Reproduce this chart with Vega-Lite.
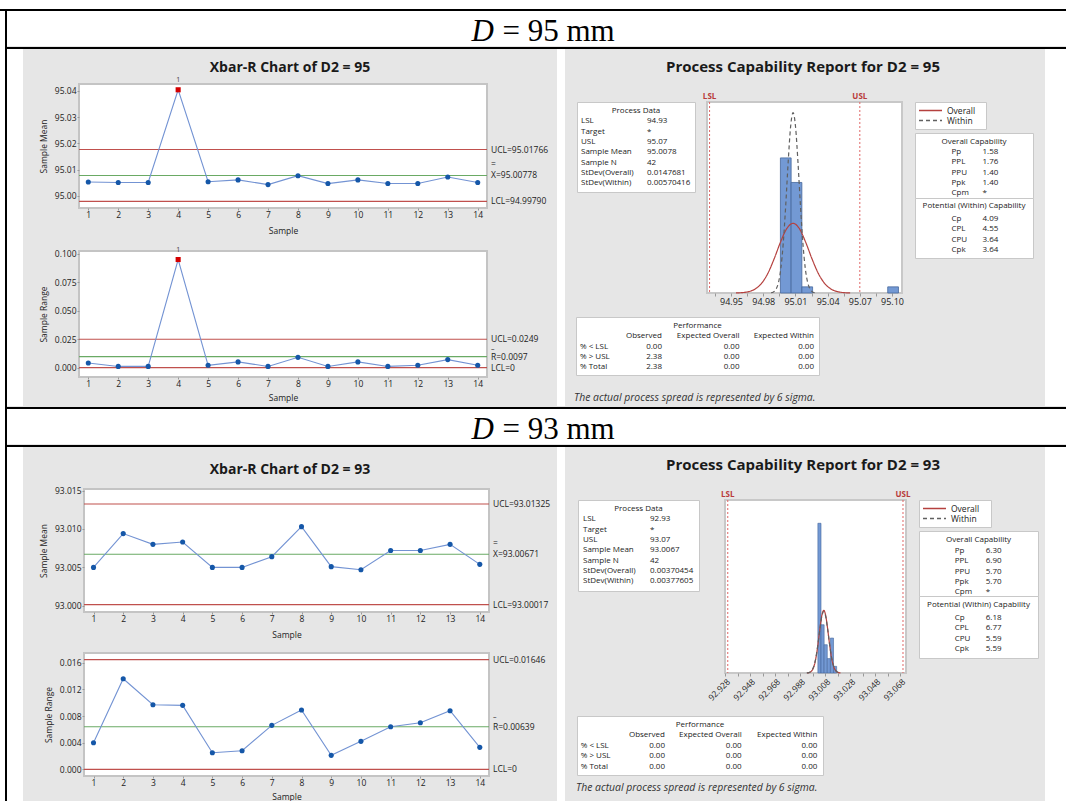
{
"$schema": "https://vega.github.io/schema/vega-lite/v6.json",
"background": "#e6e6e6",
"padding": 0,
"usermeta": {"embedOptions": {"actions": false}},
"config": {
  "view": {"stroke": null},
  "font": "Open Sans",
  "concat": {"spacing": 0},
  "axis": {"labelFont": "Open Sans", "labelFontSize": 8.5, "labelColor": "#222", "titleFont": "Open Sans", "titleFontSize": 8.5, "titleFontWeight": "normal", "titleColor": "#222", "tickColor": "#999", "domain": false, "grid": false, "labelOverlap": false, "labelFlush": false, "labelBound": false}
},
"spacing": 0,
"vconcat": [
 {"width": 1066, "height": 9, "view": {"fill": "white"}, "data": {"values": []}, "mark": "point"},
 {"width": 1066, "height": 2, "view": {"fill": "black"}, "data": {"values": []}, "mark": "point"},
 {"spacing": 0, "hconcat": [
  {"width": 5, "height": 790, "view": {"fill": "white"}, "data": {"values": []}, "mark": "point"},
  {"width": 2, "height": 790, "view": {"fill": "black"}, "data": {"values": []}, "mark": "point"},
  {"spacing": 0, "vconcat": [
   {"width": 1059, "height": 35, "view": {"fill": "white"},
    "data": {"values": [{"d": "D", "rest": "= 95 mm"}]},
    "layer": [
     {"mark": {"type": "text", "font": "Liberation Serif", "fontSize": 31, "fontStyle": "italic", "align": "left", "baseline": "alphabetic", "dx": -65, "dy": 12, "color": "black"}, "encoding": {"text": {"field": "d"}}},
     {"mark": {"type": "text", "font": "Liberation Serif", "fontSize": 31, "align": "left", "baseline": "alphabetic", "dx": -34, "dy": 12, "color": "black"}, "encoding": {"text": {"field": "rest"}}}
    ]},
   {"width": 1059, "height": 2, "view": {"fill": "black"}, "data": {"values": []}, "mark": "point"},
   {"spacing": 0, "hconcat": [
    {"width": 16, "height": 357, "view": {"fill": "white"}, "data": {"values": []}, "mark": "point"},
    {"bounds": "flush", "spacing": 0, "columns": 3, "align": "each", "concat": [
     {"width": 56, "height": 35, "data": {"values": []}, "mark": "point"},
     {"width": 408, "height": 35, "data": {"values": [{"t": "Xbar-R Chart of D2 = 95"}]}, "mark": {"type": "text", "fontSize": 14, "fontWeight": "bold", "dx": 7, "dy": 1.5, "color": "#1a1a1a"}, "encoding": {"text": {"field": "t"}}},
     {"width": 70, "height": 35, "data": {"values": []}, "mark": "point"},
     {"width": 56, "height": 124, "data": {"values": []}, "mark": "point"},
     {"width": 408, "height": 124, "view": {"fill": "white", "stroke": "#c4c4c4", "strokeWidth": 2},
      "encoding": {"y": {"field": "y", "type": "quantitative", "scale": {"domain": [94.9954, 95.0426], "nice": false, "zero": false}, "axis": {"values": [95.0, 95.01, 95.02, 95.03, 95.04], "format": ".2f", "title": "Sample Mean", "tickSize": 2, "labelPadding": 1, "titlePadding": 6, "labelOverlap": false, "labelFlush": false}}},
      "layer": [
       {"data": {"values": [{"k": "UCL", "y": 95.01766}, {"k": "CL", "y": 95.00778}, {"k": "LCL", "y": 94.9979}]},
        "mark": {"type": "rule", "strokeWidth": 1.2},
        "encoding": {"color": {"condition": {"test": "datum.k == 'CL'", "value": "#6aaa64"}, "value": "#c0504d"}}},
       {"data": {"values": [{"y": 95.01766, "lab": "UCL=95.01766"}, {"y": 95.00778, "lab": "X=95.00778"}, {"y": 94.9979, "lab": "LCL=94.99790"}]},
        "mark": {"type": "text", "align": "left", "dx": 4, "fontSize": 8.5, "color": "#222"},
        "encoding": {"x": {"datum": 14.31, "type": "quantitative", "scale": {"domain": [0.69, 14.31], "nice": false, "zero": false}, "axis": {"values": [1,2,3,4,5,6,7,8,9,10,11,12,13,14], "format": "d", "title": "Sample", "tickSize": 2, "labelPadding": 0, "titlePadding": 8, "labelOverlap": false, "labelFlush": false}}, "text": {"field": "lab"}}},
       {"data": {"values": [{"y": 95.00778, "lab": "="}]},
        "mark": {"type": "text", "align": "left", "dx": 4, "dy": -11, "fontSize": 8.5, "color": "#222"},
        "encoding": {"x": {"datum": 14.31, "type": "quantitative", "scale": {"domain": [0.69, 14.31], "nice": false, "zero": false}, "axis": {"values": [1,2,3,4,5,6,7,8,9,10,11,12,13,14], "format": "d", "title": "Sample", "tickSize": 2, "labelPadding": 0, "titlePadding": 8, "labelOverlap": false, "labelFlush": false}}, "text": {"field": "lab"}}},
       {"data": {"name": "xb1", "values": [{"x": 1, "y": 95.0053, "o": "in"}, {"x": 2, "y": 95.0051, "o": "in"}, {"x": 3, "y": 95.0051, "o": "in"}, {"x": 4, "y": 95.0404, "o": "out"}, {"x": 5, "y": 95.0054, "o": "in"}, {"x": 6, "y": 95.0061, "o": "in"}, {"x": 7, "y": 95.0043, "o": "in"}, {"x": 8, "y": 95.0077, "o": "in"}, {"x": 9, "y": 95.0047, "o": "in"}, {"x": 10, "y": 95.0061, "o": "in"}, {"x": 11, "y": 95.0047, "o": "in"}, {"x": 12, "y": 95.0047, "o": "in"}, {"x": 13, "y": 95.0072, "o": "in"}, {"x": 14, "y": 95.0051, "o": "in"}]},
        "encoding": {"x": {"field": "x", "type": "quantitative", "scale": {"domain": [0.69, 14.31], "nice": false, "zero": false}, "axis": {"values": [1,2,3,4,5,6,7,8,9,10,11,12,13,14], "format": "d", "title": "Sample", "tickSize": 2, "labelPadding": 0, "titlePadding": 8, "labelOverlap": false, "labelFlush": false}}},
        "layer": [
         {"mark": {"type": "line", "color": "#7393d3", "strokeWidth": 1.1}},
         {"mark": {"type": "point", "filled": true, "opacity": 1, "size": 26}, "encoding": {"color": {"condition": {"test": "datum.o == 'out'", "value": "#d40000"}, "value": "#1557a8"}, "shape": {"condition": {"test": "datum.o == 'out'", "value": "square"}, "value": "circle"}}},
         {"transform": [{"filter": "datum.o == 'out'"}], "mark": {"type": "text", "dy": -10, "fontSize": 7, "color": "#444"}, "encoding": {"text": {"value": "1"}}}
        ]}
      ]},
     {"width": 70, "height": 124, "data": {"values": []}, "mark": "point"},
     {"width": 56, "height": 43, "data": {"values": []}, "mark": "point"},
     {"width": 408, "height": 43, "data": {"values": []}, "mark": "point"},
     {"width": 70, "height": 43, "data": {"values": []}, "mark": "point"},
     {"width": 56, "height": 126, "data": {"values": []}, "mark": "point"},
     {"width": 408, "height": 126, "view": {"fill": "white", "stroke": "#c4c4c4", "strokeWidth": 2},
      "encoding": {"y": {"field": "y", "type": "quantitative", "scale": {"domain": [-0.0083, 0.1025], "nice": false, "zero": false}, "axis": {"values": [0, 0.025, 0.05, 0.075, 0.1], "format": ".3f", "title": "Sample Range", "tickSize": 2, "labelPadding": 1, "titlePadding": 6, "labelOverlap": false, "labelFlush": false}}},
      "layer": [
       {"data": {"values": [{"k": "UCL", "y": 0.0249}, {"k": "CL", "y": 0.0097}, {"k": "LCL", "y": 0}]},
        "mark": {"type": "rule", "strokeWidth": 1.2},
        "encoding": {"color": {"condition": {"test": "datum.k == 'CL'", "value": "#6aaa64"}, "value": "#c0504d"}}},
       {"data": {"values": [{"y": 0.0249, "lab": "UCL=0.0249"}, {"y": 0.0097, "lab": "R=0.0097"}, {"y": 0, "lab": "LCL=0"}]},
        "mark": {"type": "text", "align": "left", "dx": 4, "fontSize": 8.5, "color": "#222"},
        "encoding": {"x": {"datum": 14.31, "type": "quantitative", "scale": {"domain": [0.69, 14.31], "nice": false, "zero": false}, "axis": {"values": [1,2,3,4,5,6,7,8,9,10,11,12,13,14], "format": "d", "title": "Sample", "tickSize": 2, "labelPadding": 0, "titlePadding": 6, "labelOverlap": false, "labelFlush": false}}, "text": {"field": "lab"}}},
       {"data": {"values": [{"y": 0.0097, "lab": "–"}]},
        "mark": {"type": "text", "align": "left", "dx": 4, "dy": -8, "fontSize": 7, "color": "#222"},
        "encoding": {"x": {"datum": 14.31, "type": "quantitative", "scale": {"domain": [0.69, 14.31], "nice": false, "zero": false}, "axis": {"values": [1,2,3,4,5,6,7,8,9,10,11,12,13,14], "format": "d", "title": "Sample", "tickSize": 2, "labelPadding": 0, "titlePadding": 6, "labelOverlap": false, "labelFlush": false}}, "text": {"field": "lab"}}},
       {"data": {"name": "r1", "values": [{"x": 1, "y": 0.004, "o": "in"}, {"x": 2, "y": 0.001, "o": "in"}, {"x": 3, "y": 0.001, "o": "in"}, {"x": 4, "y": 0.095, "o": "out"}, {"x": 5, "y": 0.002, "o": "in"}, {"x": 6, "y": 0.005, "o": "in"}, {"x": 7, "y": 0.001, "o": "in"}, {"x": 8, "y": 0.009, "o": "in"}, {"x": 9, "y": 0.001, "o": "in"}, {"x": 10, "y": 0.005, "o": "in"}, {"x": 11, "y": 0.001, "o": "in"}, {"x": 12, "y": 0.002, "o": "in"}, {"x": 13, "y": 0.007, "o": "in"}, {"x": 14, "y": 0.002, "o": "in"}]},
        "encoding": {"x": {"field": "x", "type": "quantitative", "scale": {"domain": [0.69, 14.31], "nice": false, "zero": false}, "axis": {"values": [1,2,3,4,5,6,7,8,9,10,11,12,13,14], "format": "d", "title": "Sample", "tickSize": 2, "labelPadding": 0, "titlePadding": 6, "labelOverlap": false, "labelFlush": false}}},
        "layer": [
         {"mark": {"type": "line", "color": "#7393d3", "strokeWidth": 1.1}},
         {"mark": {"type": "point", "filled": true, "opacity": 1, "size": 26}, "encoding": {"color": {"condition": {"test": "datum.o == 'out'", "value": "#d40000"}, "value": "#1557a8"}, "shape": {"condition": {"test": "datum.o == 'out'", "value": "square"}, "value": "circle"}}},
         {"transform": [{"filter": "datum.o == 'out'"}], "mark": {"type": "text", "dy": -10, "fontSize": 7, "color": "#444"}, "encoding": {"text": {"value": "1"}}}
        ]}
      ]},
     {"width": 70, "height": 126, "data": {"values": []}, "mark": "point"},
     {"width": 56, "height": 29, "data": {"values": []}, "mark": "point"},
     {"width": 408, "height": 29, "data": {"values": []}, "mark": "point"},
     {"width": 70, "height": 29, "data": {"values": []}, "mark": "point"}
    ]},
    {"width": 8, "height": 357, "view": {"fill": "white"}, "data": {"values": []}, "mark": "point"},
    {"spacing": 0, "vconcat": [
     {"width": 476, "height": 43, "data": {"values": [{"t": "Process Capability Report for D2 = 95"}]}, "mark": {"type": "text", "fontSize": 15, "fontWeight": "bold", "dy": -3.5, "color": "#1a1a1a"}, "encoding": {"text": {"field": "t"}}},
     {"spacing": 0, "hconcat": [
      {"width": 10.5, "height": 224, "data": {"values": []}, "mark": "point"},
      {"bounds": "flush", "spacing": 0, "vconcat": [
       {"width": 118, "height": 10, "data": {"values": []}, "mark": "point"},
       {"width": 118, "height": 90, "view": {"fill": "white", "stroke": "#c8c8c8", "strokeWidth": 1},
        "data": {"values": [{"i": 1, "a": "LSL", "b": "94.93"}, {"i": 2, "a": "Target", "b": "*"}, {"i": 3, "a": "USL", "b": "95.07"}, {"i": 4, "a": "Sample Mean", "b": "95.0078"}, {"i": 5, "a": "Sample N", "b": "42"}, {"i": 6, "a": "StDev(Overall)", "b": "0.0147681"}, {"i": 7, "a": "StDev(Within)", "b": "0.00570416"}]},
        "layer": [
         {"data": {"values": [{"h": "Process Data"}]}, "mark": {"type": "text", "fontSize": 8, "dy": -36, "color": "#222"}, "encoding": {"text": {"field": "h"}}},
         {"mark": {"type": "text", "align": "left", "dx": -55, "fontSize": 8, "color": "#222"}, "encoding": {"y": {"field": "i", "type": "quantitative", "scale": {"domain": [-0.874, 7.864], "reverse": true, "nice": false, "zero": false}, "axis": null}, "text": {"field": "a"}}},
         {"mark": {"type": "text", "align": "left", "dx": 11, "fontSize": 8, "color": "#222"}, "encoding": {"y": {"field": "i", "type": "quantitative", "axis": null}, "text": {"field": "b"}}}
        ]},
       {"width": 118, "height": 124, "data": {"values": []}, "mark": "point"}
      ]},
      {"bounds": "flush", "spacing": 0, "columns": 3, "align": "each", "concat": [
       {"width": 10.5, "height": 10, "data": {"values": []}, "mark": "point"},
       {"width": 195, "height": 10, "data": {"values": []}, "mark": "point"},
       {"width": 11.5, "height": 10, "data": {"values": []}, "mark": "point"},
       {"width": 10.5, "height": 191, "data": {"values": []}, "mark": "point"},
       {"width": 195, "height": 191, "view": {"fill": "white", "stroke": "#c8c8c8", "strokeWidth": 2},
        "encoding": {"x": {"field": "lo", "type": "quantitative", "scale": {"domain": [94.9276, 95.1093], "nice": false, "zero": false}, "axis": {"values": [94.935, 94.95, 94.965, 94.98, 94.995, 95.01, 95.025, 95.04, 95.055, 95.07, 95.085, 95.1], "labelExpr": "abs(datum.value*100 - round(datum.value*100)) < 0.01 ? format(datum.value, '.2f') : ''", "title": null, "tickSize": 3, "labelPadding": 1, "labelFontSize": 9, "labelFlush": false, "labelOverlap": false}}},
        "layer": [
         {"data": {"values": [{"lo": 94.996, "hi": 95.006, "n": 22}, {"lo": 95.006, "hi": 95.016, "n": 18}, {"lo": 95.016, "hi": 95.026, "n": 1}, {"lo": 95.096, "hi": 95.106, "n": 1}]},
          "mark": {"type": "rect", "fill": "#7399d4", "stroke": "#45679c", "strokeWidth": 0.8},
          "encoding": {"x2": {"field": "hi"}, "y": {"field": "n", "type": "quantitative", "scale": {"domain": [0, 31.1], "nice": false, "zero": false}, "axis": null}, "y2": {"datum": 0}}},
         {"data": {"values": [{"k": "LSL", "lo": 94.93}, {"k": "USL", "lo": 95.07}]},
          "mark": {"type": "rule", "color": "#e06666", "strokeDash": [2, 2], "strokeWidth": 1}},
         {"data": {"values": [{"k": "LSL", "lo": 94.93}, {"k": "USL", "lo": 95.07}]},
          "mark": {"type": "text", "baseline": "bottom", "dy": -1, "fontSize": 8, "fontWeight": "bold", "color": "#b83b3b"},
          "encoding": {"y": {"datum": 31.1, "type": "quantitative", "axis": null}, "text": {"field": "k"}}},
         {"data": {"values": [
           {"c": "Overall", "lo": 94.95463, "n": 0.017}, {"c": "Overall", "lo": 94.96054, "n": 0.068}, {"c": "Overall", "lo": 94.96645, "n": 0.225}, {"c": "Overall", "lo": 94.97236, "n": 0.637}, {"c": "Overall", "lo": 94.97826, "n": 1.536}, {"c": "Overall", "lo": 94.98417, "n": 3.155}, {"c": "Overall", "lo": 94.99008, "n": 5.525}, {"c": "Overall", "lo": 94.99599, "n": 8.241}, {"c": "Overall", "lo": 95.00189, "n": 10.477}, {"c": "Overall", "lo": 95.0078, "n": 11.35}, {"c": "Overall", "lo": 95.01371, "n": 10.477}, {"c": "Overall", "lo": 95.01961, "n": 8.241}, {"c": "Overall", "lo": 95.02552, "n": 5.525}, {"c": "Overall", "lo": 95.03143, "n": 3.155}, {"c": "Overall", "lo": 95.03734, "n": 1.536}, {"c": "Overall", "lo": 95.04324, "n": 0.637}, {"c": "Overall", "lo": 95.04915, "n": 0.225}, {"c": "Overall", "lo": 95.05506, "n": 0.068}, {"c": "Overall", "lo": 95.06097, "n": 0.017},
           {"c": "Within", "lo": 94.98727, "n": 0.045}, {"c": "Within", "lo": 94.98955, "n": 0.176}, {"c": "Within", "lo": 94.99183, "n": 0.583}, {"c": "Within", "lo": 94.99411, "n": 1.649}, {"c": "Within", "lo": 94.99639, "n": 3.975}, {"c": "Within", "lo": 94.99867, "n": 8.165}, {"c": "Within", "lo": 95.00096, "n": 14.297}, {"c": "Within", "lo": 95.00324, "n": 21.326}, {"c": "Within", "lo": 95.00552, "n": 27.111}, {"c": "Within", "lo": 95.0078, "n": 29.37}, {"c": "Within", "lo": 95.01008, "n": 27.111}, {"c": "Within", "lo": 95.01236, "n": 21.326}, {"c": "Within", "lo": 95.01465, "n": 14.297}, {"c": "Within", "lo": 95.01693, "n": 8.165}, {"c": "Within", "lo": 95.01921, "n": 3.975}, {"c": "Within", "lo": 95.02149, "n": 1.649}, {"c": "Within", "lo": 95.02377, "n": 0.583}, {"c": "Within", "lo": 95.02605, "n": 0.176}, {"c": "Within", "lo": 95.02834, "n": 0.045}]},
          "mark": {"type": "line", "interpolate": "monotone", "strokeWidth": 1.2},
          "encoding": {"y": {"field": "n", "type": "quantitative", "axis": null}, "detail": {"field": "c"},
           "color": {"condition": {"test": "datum.c == 'Within'", "value": "#606060"}, "value": "#b5413f"},
           "strokeDash": {"condition": {"test": "datum.c == 'Within'", "value": [4, 3]}, "value": [1, 0]}}}
        ]},
       {"width": 11.5, "height": 191, "data": {"values": []}, "mark": "point"},
       {"width": 10.5, "height": 23, "data": {"values": []}, "mark": "point"},
       {"width": 195, "height": 23, "data": {"values": []}, "mark": "point"},
       {"width": 11.5, "height": 23, "data": {"values": []}, "mark": "point"}
      ]},
      {"bounds": "flush", "spacing": 0, "vconcat": [
       {"width": 118, "height": 10, "data": {"values": []}, "mark": "point"},
       {"width": 71, "height": 27, "view": {"fill": "white", "stroke": "#c8c8c8", "strokeWidth": 1},
        "layer": [
         {"data": {"values": [{"c": "Overall", "t": 0}, {"c": "Overall", "t": 1}, {"c": "Within", "t": 0}, {"c": "Within", "t": 1}]},
          "mark": {"type": "line", "strokeWidth": 1.3},
          "encoding": {"x": {"field": "t", "type": "quantitative", "scale": {"domain": [-0.174, 2.913], "nice": false, "zero": false}, "axis": null}, "y": {"field": "c", "type": "nominal", "scale": {"type": "point", "padding": 0.85}, "axis": null}, "detail": {"field": "c"},
           "color": {"condition": {"test": "datum.c == 'Within'", "value": "#606060"}, "value": "#b5413f"},
           "strokeDash": {"condition": {"test": "datum.c == 'Within'", "value": [4, 3]}, "value": [1, 0]}}},
         {"data": {"values": [{"c": "Overall"}, {"c": "Within"}]},
          "mark": {"type": "text", "align": "left", "dx": 5, "fontSize": 8.5, "color": "#222"},
          "encoding": {"x": {"datum": 1, "type": "quantitative", "axis": null}, "y": {"field": "c", "type": "nominal", "axis": null}, "text": {"field": "c"}}}
        ]},
       {"width": 118, "height": 4, "data": {"values": []}, "mark": "point"},
       {"width": 118, "height": 65, "view": {"fill": "white", "stroke": "#c8c8c8", "strokeWidth": 1},
        "data": {"values": [{"i": 1, "a": "Pp", "b": "1.58"}, {"i": 2, "a": "PPL", "b": "1.76"}, {"i": 3, "a": "PPU", "b": "1.40"}, {"i": 4, "a": "Ppk", "b": "1.40"}, {"i": 5, "a": "Cpm", "b": "*"}]},
        "layer": [
         {"data": {"values": [{"h": "Overall Capability"}]}, "mark": {"type": "text", "fontSize": 8, "dy": -23.5, "color": "#222"}, "encoding": {"text": {"field": "h"}}},
         {"mark": {"type": "text", "align": "left", "dx": -22.5, "fontSize": 8, "color": "#222"}, "encoding": {"y": {"field": "i", "type": "quantitative", "scale": {"domain": [-0.854, 5.488], "reverse": true, "nice": false, "zero": false}, "axis": null}, "text": {"field": "a"}}},
         {"mark": {"type": "text", "align": "left", "dx": 8.5, "fontSize": 8, "color": "#222"}, "encoding": {"y": {"field": "i", "type": "quantitative", "axis": null}, "text": {"field": "b"}}}
        ]},
       {"width": 118, "height": 60, "view": {"fill": "white", "stroke": "#c8c8c8", "strokeWidth": 1},
        "data": {"values": [{"i": 1, "a": "Cp", "b": "4.09"}, {"i": 2, "a": "CPL", "b": "4.55"}, {"i": 3, "a": "CPU", "b": "3.64"}, {"i": 4, "a": "Cpk", "b": "3.64"}]},
        "layer": [
         {"data": {"values": [{"h": "Potential (Within) Capability"}]}, "mark": {"type": "text", "fontSize": 8, "dy": -22, "color": "#222"}, "encoding": {"text": {"field": "h"}}},
         {"mark": {"type": "text", "align": "left", "dx": -22.5, "fontSize": 8, "color": "#222"}, "encoding": {"y": {"field": "i", "type": "quantitative", "scale": {"domain": [-1.033, 4.775], "reverse": true, "nice": false, "zero": false}, "axis": null}, "text": {"field": "a"}}},
         {"mark": {"type": "text", "align": "left", "dx": 8.5, "fontSize": 8, "color": "#222"}, "encoding": {"y": {"field": "i", "type": "quantitative", "axis": null}, "text": {"field": "b"}}}
        ]},
       {"width": 118, "height": 58, "data": {"values": []}, "mark": "point"}
      ]},
      {"width": 10.5, "height": 224, "data": {"values": []}, "mark": "point"}
     ]},
     {"bounds": "flush", "spacing": 0, "hconcat": [
      {"width": 11, "height": 58, "data": {"values": []}, "mark": "point"},
      {"width": 243, "height": 58, "view": {"fill": "white", "stroke": "#c8c8c8", "strokeWidth": 1},
       "data": {"values": [{"i": 1, "a": "", "o": "Observed", "e1": "Expected Overall", "e2": "Expected Within"}, {"i": 2, "a": "% < LSL", "o": "0.00", "e1": "0.00", "e2": "0.00"}, {"i": 3, "a": "% > USL", "o": "2.38", "e1": "0.00", "e2": "0.00"}, {"i": 4, "a": "% Total", "o": "2.38", "e1": "0.00", "e2": "0.00"}]},
       "layer": [
        {"data": {"values": [{"h": "Performance", "i": 0}]}, "mark": {"type": "text", "fontSize": 8, "color": "#222"}, "encoding": {"y": {"field": "i", "type": "quantitative", "scale": {"domain": [-0.874, 4.757], "reverse": true, "nice": false, "zero": false}, "axis": null}, "text": {"field": "h"}}},
        {"mark": {"type": "text", "align": "left", "dx": -117.5, "fontSize": 8, "color": "#222"}, "encoding": {"y": {"field": "i", "type": "quantitative", "axis": null}, "text": {"field": "a"}}},
        {"mark": {"type": "text", "align": "right", "dx": -35.5, "fontSize": 8, "color": "#222"}, "encoding": {"y": {"field": "i", "type": "quantitative", "axis": null}, "text": {"field": "o"}}},
        {"mark": {"type": "text", "align": "right", "dx": 42, "fontSize": 8, "color": "#222"}, "encoding": {"y": {"field": "i", "type": "quantitative", "axis": null}, "text": {"field": "e1"}}},
        {"mark": {"type": "text", "align": "right", "dx": 116.5, "fontSize": 8, "color": "#222"}, "encoding": {"y": {"field": "i", "type": "quantitative", "axis": null}, "text": {"field": "e2"}}}
       ]},
      {"width": 222, "height": 58, "data": {"values": []}, "mark": "point"}
     ]},
     {"width": 476, "height": 13, "data": {"values": []}, "mark": "point"},
     {"width": 476, "height": 18, "data": {"values": [{"t": "The actual process spread is represented by 6 sigma."}]}, "mark": {"type": "text", "align": "left", "dx": -229, "fontSize": 10.4, "fontStyle": "italic", "color": "#333"}, "encoding": {"text": {"field": "t"}}}
    ]},
    {"width": 25, "height": 357, "view": {"fill": "white"}, "data": {"values": []}, "mark": "point"}
   ]},
   {"width": 1059, "height": 2, "view": {"fill": "black"}, "data": {"values": []}, "mark": "point"},
   {"width": 1059, "height": 35, "view": {"fill": "white"},
    "data": {"values": [{"d": "D", "rest": "= 93 mm"}]},
    "layer": [
     {"mark": {"type": "text", "font": "Liberation Serif", "fontSize": 31, "fontStyle": "italic", "align": "left", "baseline": "alphabetic", "dx": -65, "dy": 12, "color": "black"}, "encoding": {"text": {"field": "d"}}},
     {"mark": {"type": "text", "font": "Liberation Serif", "fontSize": 31, "align": "left", "baseline": "alphabetic", "dx": -34, "dy": 12, "color": "black"}, "encoding": {"text": {"field": "rest"}}}
    ]},
   {"width": 1059, "height": 2, "view": {"fill": "black"}, "data": {"values": []}, "mark": "point"},
   {"spacing": 0, "hconcat": [
    {"width": 16, "height": 357, "view": {"fill": "white"}, "data": {"values": []}, "mark": "point"},
    {"bounds": "flush", "spacing": 0, "columns": 3, "align": "each", "concat": [
     {"width": 61, "height": 42, "data": {"values": []}, "mark": "point"},
     {"width": 405, "height": 42, "data": {"values": [{"t": "Xbar-R Chart of D2 = 93"}]}, "mark": {"type": "text", "fontSize": 14, "fontWeight": "bold", "dx": 3.5, "dy": 2, "color": "#1a1a1a"}, "encoding": {"text": {"field": "t"}}},
     {"width": 68, "height": 42, "data": {"values": []}, "mark": "point"},
     {"width": 61, "height": 123, "data": {"values": []}, "mark": "point"},
     {"width": 405, "height": 123, "view": {"fill": "white", "stroke": "#c4c4c4", "strokeWidth": 2},
      "encoding": {"y": {"field": "y", "type": "quantitative", "scale": {"domain": [92.9992, 93.0152], "nice": false, "zero": false}, "axis": {"values": [93.0, 93.005, 93.01, 93.015], "format": ".3f", "title": "Sample Mean", "tickSize": 2, "labelPadding": 1, "titlePadding": 6, "labelOverlap": false, "labelFlush": false}}},
      "layer": [
       {"data": {"values": [{"k": "UCL", "y": 93.01325}, {"k": "CL", "y": 93.00671}, {"k": "LCL", "y": 93.00017}]},
        "mark": {"type": "rule", "strokeWidth": 1.2},
        "encoding": {"color": {"condition": {"test": "datum.k == 'CL'", "value": "#6aaa64"}, "value": "#c0504d"}}},
       {"data": {"values": [{"y": 93.01325, "lab": "UCL=93.01325"}, {"y": 93.00671, "lab": "X=93.00671"}, {"y": 93.00017, "lab": "LCL=93.00017"}]},
        "mark": {"type": "text", "align": "left", "dx": 4, "fontSize": 8.5, "color": "#222"},
        "encoding": {"x": {"datum": 14.31, "type": "quantitative", "scale": {"domain": [0.68, 14.31], "nice": false, "zero": false}, "axis": {"values": [1,2,3,4,5,6,7,8,9,10,11,12,13,14], "format": "d", "title": "Sample", "tickSize": 2, "labelPadding": 0, "titlePadding": 8, "labelOverlap": false, "labelFlush": false}}, "text": {"field": "lab"}}},
       {"data": {"values": [{"y": 93.00671, "lab": "="}]},
        "mark": {"type": "text", "align": "left", "dx": 4, "dy": -11, "fontSize": 8.5, "color": "#222"},
        "encoding": {"x": {"datum": 14.31, "type": "quantitative", "scale": {"domain": [0.68, 14.31], "nice": false, "zero": false}, "axis": {"values": [1,2,3,4,5,6,7,8,9,10,11,12,13,14], "format": "d", "title": "Sample", "tickSize": 2, "labelPadding": 0, "titlePadding": 8, "labelOverlap": false, "labelFlush": false}}, "text": {"field": "lab"}}},
       {"data": {"values": [{"x": 1, "y": 93.005}, {"x": 2, "y": 93.0094}, {"x": 3, "y": 93.008}, {"x": 4, "y": 93.0083}, {"x": 5, "y": 93.005}, {"x": 6, "y": 93.005}, {"x": 7, "y": 93.0064}, {"x": 8, "y": 93.0103}, {"x": 9, "y": 93.0051}, {"x": 10, "y": 93.0047}, {"x": 11, "y": 93.0072}, {"x": 12, "y": 93.0072}, {"x": 13, "y": 93.008}, {"x": 14, "y": 93.0054}]},
        "encoding": {"x": {"field": "x", "type": "quantitative", "scale": {"domain": [0.68, 14.31], "nice": false, "zero": false}, "axis": {"values": [1,2,3,4,5,6,7,8,9,10,11,12,13,14], "format": "d", "title": "Sample", "tickSize": 2, "labelPadding": 0, "titlePadding": 8, "labelOverlap": false, "labelFlush": false}}},
        "layer": [
         {"mark": {"type": "line", "color": "#7393d3", "strokeWidth": 1.1}},
         {"mark": {"type": "point", "filled": true, "opacity": 1, "size": 26, "color": "#1557a8"}}
        ]}
      ]},
     {"width": 68, "height": 123, "data": {"values": []}, "mark": "point"},
     {"width": 61, "height": 41, "data": {"values": []}, "mark": "point"},
     {"width": 405, "height": 41, "data": {"values": []}, "mark": "point"},
     {"width": 68, "height": 41, "data": {"values": []}, "mark": "point"},
     {"width": 61, "height": 123, "data": {"values": []}, "mark": "point"},
     {"width": 405, "height": 123, "view": {"fill": "white", "stroke": "#c4c4c4", "strokeWidth": 2},
      "encoding": {"y": {"field": "y", "type": "quantitative", "scale": {"domain": [-0.001, 0.01746], "nice": false, "zero": false}, "axis": {"values": [0, 0.004, 0.008, 0.012, 0.016], "format": ".3f", "title": "Sample Range", "tickSize": 2, "labelPadding": 1, "titlePadding": 6, "labelOverlap": false, "labelFlush": false}}},
      "layer": [
       {"data": {"values": [{"k": "UCL", "y": 0.01646}, {"k": "CL", "y": 0.00639}, {"k": "LCL", "y": 0}]},
        "mark": {"type": "rule", "strokeWidth": 1.2},
        "encoding": {"color": {"condition": {"test": "datum.k == 'CL'", "value": "#6aaa64"}, "value": "#c0504d"}}},
       {"data": {"values": [{"y": 0.01646, "lab": "UCL=0.01646"}, {"y": 0.00639, "lab": "R=0.00639"}, {"y": 0, "lab": "LCL=0"}]},
        "mark": {"type": "text", "align": "left", "dx": 4, "fontSize": 8.5, "color": "#222"},
        "encoding": {"x": {"datum": 14.31, "type": "quantitative", "scale": {"domain": [0.68, 14.31], "nice": false, "zero": false}, "axis": {"values": [1,2,3,4,5,6,7,8,9,10,11,12,13,14], "format": "d", "title": "Sample", "tickSize": 2, "labelPadding": 0, "titlePadding": 6, "labelOverlap": false, "labelFlush": false}}, "text": {"field": "lab"}}},
       {"data": {"values": [{"y": 0.00639, "lab": "–"}]},
        "mark": {"type": "text", "align": "left", "dx": 4, "dy": -10, "fontSize": 7, "color": "#222"},
        "encoding": {"x": {"datum": 14.31, "type": "quantitative", "scale": {"domain": [0.68, 14.31], "nice": false, "zero": false}, "axis": {"values": [1,2,3,4,5,6,7,8,9,10,11,12,13,14], "format": "d", "title": "Sample", "tickSize": 2, "labelPadding": 0, "titlePadding": 6, "labelOverlap": false, "labelFlush": false}}, "text": {"field": "lab"}}},
       {"data": {"values": [{"x": 1, "y": 0.004}, {"x": 2, "y": 0.0136}, {"x": 3, "y": 0.0097}, {"x": 4, "y": 0.0096}, {"x": 5, "y": 0.0025}, {"x": 6, "y": 0.0028}, {"x": 7, "y": 0.0066}, {"x": 8, "y": 0.0089}, {"x": 9, "y": 0.0021}, {"x": 10, "y": 0.0042}, {"x": 11, "y": 0.0064}, {"x": 12, "y": 0.007}, {"x": 13, "y": 0.0088}, {"x": 14, "y": 0.0033}]},
        "encoding": {"x": {"field": "x", "type": "quantitative", "scale": {"domain": [0.68, 14.31], "nice": false, "zero": false}, "axis": {"values": [1,2,3,4,5,6,7,8,9,10,11,12,13,14], "format": "d", "title": "Sample", "tickSize": 2, "labelPadding": 0, "titlePadding": 6, "labelOverlap": false, "labelFlush": false}}},
        "layer": [
         {"mark": {"type": "line", "color": "#7393d3", "strokeWidth": 1.1}},
         {"mark": {"type": "point", "filled": true, "opacity": 1, "size": 26, "color": "#1557a8"}}
        ]}
      ]},
     {"width": 68, "height": 123, "data": {"values": []}, "mark": "point"},
     {"width": 61, "height": 28, "data": {"values": []}, "mark": "point"},
     {"width": 405, "height": 28, "data": {"values": []}, "mark": "point"},
     {"width": 68, "height": 28, "data": {"values": []}, "mark": "point"}
    ]},
    {"width": 8, "height": 357, "view": {"fill": "white"}, "data": {"values": []}, "mark": "point"},
    {"spacing": 0, "vconcat": [
     {"width": 476, "height": 43, "data": {"values": [{"t": "Process Capability Report for D2 = 93"}]}, "mark": {"type": "text", "fontSize": 15, "fontWeight": "bold", "dy": -3.5, "color": "#1a1a1a"}, "encoding": {"text": {"field": "t"}}},
     {"spacing": 0, "hconcat": [
      {"width": 11.5, "height": 225, "data": {"values": []}, "mark": "point"},
      {"bounds": "flush", "spacing": 0, "vconcat": [
       {"width": 121, "height": 10, "data": {"values": []}, "mark": "point"},
       {"width": 121, "height": 91, "view": {"fill": "white", "stroke": "#c8c8c8", "strokeWidth": 1},
        "data": {"values": [{"i": 1, "a": "LSL", "b": "92.93"}, {"i": 2, "a": "Target", "b": "*"}, {"i": 3, "a": "USL", "b": "93.07"}, {"i": 4, "a": "Sample Mean", "b": "93.0067"}, {"i": 5, "a": "Sample N", "b": "42"}, {"i": 6, "a": "StDev(Overall)", "b": "0.00370454"}, {"i": 7, "a": "StDev(Within)", "b": "0.00377605"}]},
        "layer": [
         {"data": {"values": [{"h": "Process Data"}]}, "mark": {"type": "text", "fontSize": 8, "dy": -36.5, "color": "#222"}, "encoding": {"text": {"field": "h"}}},
         {"mark": {"type": "text", "align": "left", "dx": -55.5, "fontSize": 8, "color": "#222"}, "encoding": {"y": {"field": "i", "type": "quantitative", "scale": {"domain": [-0.874, 7.961], "reverse": true, "nice": false, "zero": false}, "axis": null}, "text": {"field": "a"}}},
         {"mark": {"type": "text", "align": "left", "dx": 11.5, "fontSize": 8, "color": "#222"}, "encoding": {"y": {"field": "i", "type": "quantitative", "axis": null}, "text": {"field": "b"}}}
        ]},
       {"width": 121, "height": 124, "data": {"values": []}, "mark": "point"}
      ]},
      {"bounds": "flush", "spacing": 0, "columns": 3, "align": "each", "concat": [
       {"width": 24.5, "height": 10, "data": {"values": []}, "mark": "point"},
       {"width": 181, "height": 10, "data": {"values": []}, "mark": "point"},
       {"width": 11.5, "height": 10, "data": {"values": []}, "mark": "point"},
       {"width": 24.5, "height": 173, "data": {"values": []}, "mark": "point"},
       {"width": 181, "height": 173, "view": {"fill": "white", "stroke": "#c8c8c8", "strokeWidth": 2},
        "encoding": {"x": {"field": "lo", "type": "quantitative", "scale": {"domain": [92.9278, 93.0724], "nice": false, "zero": false}, "axis": {"values": [92.928, 92.938, 92.948, 92.958, 92.968, 92.978, 92.988, 92.998, 93.008, 93.018, 93.028, 93.038, 93.048, 93.058, 93.068], "labelExpr": "abs((datum.value - 92.928)/0.02 - round((datum.value - 92.928)/0.02)) < 0.05 ? format(datum.value, '.3f') : ''", "labelAngle": -45, "title": null, "tickSize": 3, "labelPadding": 1, "labelFontSize": 8.5, "labelFlush": false, "labelOverlap": false}}},
        "layer": [
         {"data": {"values": [{"lo": 93.002, "hi": 93.0045, "n": 27}, {"lo": 93.0045, "hi": 93.007, "n": 8.7}, {"lo": 93.007, "hi": 93.0095, "n": 5.1}, {"lo": 93.0095, "hi": 93.012, "n": 2.6}, {"lo": 93.012, "hi": 93.0145, "n": 6.3}, {"lo": 93.0145, "hi": 93.017, "n": 1.2}]},
          "mark": {"type": "rect", "fill": "#7399d4", "stroke": "#45679c", "strokeWidth": 0.6},
          "encoding": {"x2": {"field": "hi"}, "y": {"field": "n", "type": "quantitative", "scale": {"domain": [0, 31.2], "nice": false, "zero": false}, "axis": null}, "y2": {"datum": 0}}},
         {"data": {"values": [{"k": "LSL", "lo": 92.93}, {"k": "USL", "lo": 93.07}]},
          "mark": {"type": "rule", "color": "#e06666", "strokeDash": [2, 2], "strokeWidth": 1}},
         {"data": {"values": [{"k": "LSL", "lo": 92.93}, {"k": "USL", "lo": 93.07}]},
          "mark": {"type": "text", "baseline": "bottom", "dy": -1, "fontSize": 8, "fontWeight": "bold", "color": "#b83b3b"},
          "encoding": {"y": {"datum": 31.2, "type": "quantitative", "axis": null}, "text": {"field": "k"}}},
         {"data": {"values": [
           {"c": "Overall", "lo": 92.99336, "n": 0.017}, {"c": "Overall", "lo": 92.99485, "n": 0.068}, {"c": "Overall", "lo": 92.99633, "n": 0.224}, {"c": "Overall", "lo": 92.99781, "n": 0.635}, {"c": "Overall", "lo": 92.99929, "n": 1.531}, {"c": "Overall", "lo": 93.00077, "n": 3.144}, {"c": "Overall", "lo": 93.00226, "n": 5.506}, {"c": "Overall", "lo": 93.00374, "n": 8.212}, {"c": "Overall", "lo": 93.00522, "n": 10.44}, {"c": "Overall", "lo": 93.0067, "n": 11.31}, {"c": "Overall", "lo": 93.00818, "n": 10.44}, {"c": "Overall", "lo": 93.00966, "n": 8.212}, {"c": "Overall", "lo": 93.01115, "n": 5.506}, {"c": "Overall", "lo": 93.01263, "n": 3.144}, {"c": "Overall", "lo": 93.01411, "n": 1.531}, {"c": "Overall", "lo": 93.01559, "n": 0.635}, {"c": "Overall", "lo": 93.01707, "n": 0.224}, {"c": "Overall", "lo": 93.01856, "n": 0.068}, {"c": "Overall", "lo": 93.02004, "n": 0.017},
           {"c": "Within", "lo": 92.99311, "n": 0.017}, {"c": "Within", "lo": 92.99462, "n": 0.066}, {"c": "Within", "lo": 92.99613, "n": 0.22}, {"c": "Within", "lo": 92.99764, "n": 0.622}, {"c": "Within", "lo": 92.99915, "n": 1.501}, {"c": "Within", "lo": 93.00066, "n": 3.083}, {"c": "Within", "lo": 93.00217, "n": 5.399}, {"c": "Within", "lo": 93.00368, "n": 8.052}, {"c": "Within", "lo": 93.00519, "n": 10.237}, {"c": "Within", "lo": 93.0067, "n": 11.09}, {"c": "Within", "lo": 93.00821, "n": 10.237}, {"c": "Within", "lo": 93.00972, "n": 8.052}, {"c": "Within", "lo": 93.01123, "n": 5.399}, {"c": "Within", "lo": 93.01274, "n": 3.083}, {"c": "Within", "lo": 93.01425, "n": 1.501}, {"c": "Within", "lo": 93.01576, "n": 0.622}, {"c": "Within", "lo": 93.01727, "n": 0.22}, {"c": "Within", "lo": 93.01878, "n": 0.066}, {"c": "Within", "lo": 93.02029, "n": 0.017}]},
          "mark": {"type": "line", "interpolate": "monotone", "strokeWidth": 1.2},
          "encoding": {"y": {"field": "n", "type": "quantitative", "axis": null}, "detail": {"field": "c"},
           "color": {"condition": {"test": "datum.c == 'Within'", "value": "#606060"}, "value": "#b5413f"},
           "strokeDash": {"condition": {"test": "datum.c == 'Within'", "value": [4, 3]}, "value": [1, 0]}}}
        ]},
       {"width": 11.5, "height": 173, "data": {"values": []}, "mark": "point"},
       {"width": 24.5, "height": 42, "data": {"values": []}, "mark": "point"},
       {"width": 181, "height": 42, "data": {"values": []}, "mark": "point"},
       {"width": 11.5, "height": 42, "data": {"values": []}, "mark": "point"}
      ]},
      {"bounds": "flush", "spacing": 0, "vconcat": [
       {"width": 119, "height": 10, "data": {"values": []}, "mark": "point"},
       {"width": 72, "height": 27, "view": {"fill": "white", "stroke": "#c8c8c8", "strokeWidth": 1},
        "layer": [
         {"data": {"values": [{"c": "Overall", "t": 0}, {"c": "Overall", "t": 1}, {"c": "Within", "t": 0}, {"c": "Within", "t": 1}]},
          "mark": {"type": "line", "strokeWidth": 1.3},
          "encoding": {"x": {"field": "t", "type": "quantitative", "scale": {"domain": [-0.174, 2.957], "nice": false, "zero": false}, "axis": null}, "y": {"field": "c", "type": "nominal", "scale": {"type": "point", "padding": 0.85}, "axis": null}, "detail": {"field": "c"},
           "color": {"condition": {"test": "datum.c == 'Within'", "value": "#606060"}, "value": "#b5413f"},
           "strokeDash": {"condition": {"test": "datum.c == 'Within'", "value": [4, 3]}, "value": [1, 0]}}},
         {"data": {"values": [{"c": "Overall"}, {"c": "Within"}]},
          "mark": {"type": "text", "align": "left", "dx": 5, "fontSize": 8.5, "color": "#222"},
          "encoding": {"x": {"datum": 1, "type": "quantitative", "axis": null}, "y": {"field": "c", "type": "nominal", "axis": null}, "text": {"field": "c"}}}
        ]},
       {"width": 119, "height": 4, "data": {"values": []}, "mark": "point"},
       {"width": 119, "height": 65, "view": {"fill": "white", "stroke": "#c8c8c8", "strokeWidth": 1},
        "data": {"values": [{"i": 1, "a": "Pp", "b": "6.30"}, {"i": 2, "a": "PPL", "b": "6.90"}, {"i": 3, "a": "PPU", "b": "5.70"}, {"i": 4, "a": "Ppk", "b": "5.70"}, {"i": 5, "a": "Cpm", "b": "*"}]},
        "layer": [
         {"data": {"values": [{"h": "Overall Capability"}]}, "mark": {"type": "text", "fontSize": 8, "dy": -23.5, "color": "#222"}, "encoding": {"text": {"field": "h"}}},
         {"mark": {"type": "text", "align": "left", "dx": -23.8, "fontSize": 8, "color": "#222"}, "encoding": {"y": {"field": "i", "type": "quantitative", "scale": {"domain": [-0.951, 5.39], "reverse": true, "nice": false, "zero": false}, "axis": null}, "text": {"field": "a"}}},
         {"mark": {"type": "text", "align": "left", "dx": 7.2, "fontSize": 8, "color": "#222"}, "encoding": {"y": {"field": "i", "type": "quantitative", "axis": null}, "text": {"field": "b"}}}
        ]},
       {"width": 119, "height": 62, "view": {"fill": "white", "stroke": "#c8c8c8", "strokeWidth": 1},
        "data": {"values": [{"i": 1, "a": "Cp", "b": "6.18"}, {"i": 2, "a": "CPL", "b": "6.77"}, {"i": 3, "a": "CPU", "b": "5.59"}, {"i": 4, "a": "Cpk", "b": "5.59"}]},
        "layer": [
         {"data": {"values": [{"h": "Potential (Within) Capability"}]}, "mark": {"type": "text", "fontSize": 8, "dy": -22, "color": "#222"}, "encoding": {"text": {"field": "h"}}},
         {"mark": {"type": "text", "align": "left", "dx": -23.8, "fontSize": 8, "color": "#222"}, "encoding": {"y": {"field": "i", "type": "quantitative", "scale": {"domain": [-1.13, 4.872], "reverse": true, "nice": false, "zero": false}, "axis": null}, "text": {"field": "a"}}},
         {"mark": {"type": "text", "align": "left", "dx": 7.2, "fontSize": 8, "color": "#222"}, "encoding": {"y": {"field": "i", "type": "quantitative", "axis": null}, "text": {"field": "b"}}}
        ]},
       {"width": 119, "height": 57, "data": {"values": []}, "mark": "point"}
      ]},
      {"width": 5.5, "height": 225, "data": {"values": []}, "mark": "point"}
     ]},
     {"bounds": "flush", "spacing": 0, "hconcat": [
      {"width": 12, "height": 59, "data": {"values": []}, "mark": "point"},
      {"width": 246, "height": 59, "view": {"fill": "white", "stroke": "#c8c8c8", "strokeWidth": 1},
       "data": {"values": [{"i": 1, "a": "", "o": "Observed", "e1": "Expected Overall", "e2": "Expected Within"}, {"i": 2, "a": "% < LSL", "o": "0.00", "e1": "0.00", "e2": "0.00"}, {"i": 3, "a": "% > USL", "o": "0.00", "e1": "0.00", "e2": "0.00"}, {"i": 4, "a": "% Total", "o": "0.00", "e1": "0.00", "e2": "0.00"}]},
       "layer": [
        {"data": {"values": [{"h": "Performance", "i": 0}]}, "mark": {"type": "text", "fontSize": 8, "color": "#222"}, "encoding": {"y": {"field": "i", "type": "quantitative", "scale": {"domain": [-0.865, 4.808], "reverse": true, "nice": false, "zero": false}, "axis": null}, "text": {"field": "h"}}},
        {"mark": {"type": "text", "align": "left", "dx": -119.3, "fontSize": 8, "color": "#222"}, "encoding": {"y": {"field": "i", "type": "quantitative", "axis": null}, "text": {"field": "a"}}},
        {"mark": {"type": "text", "align": "right", "dx": -35, "fontSize": 8, "color": "#222"}, "encoding": {"y": {"field": "i", "type": "quantitative", "axis": null}, "text": {"field": "o"}}},
        {"mark": {"type": "text", "align": "right", "dx": 41.7, "fontSize": 8, "color": "#222"}, "encoding": {"y": {"field": "i", "type": "quantitative", "axis": null}, "text": {"field": "e1"}}},
        {"mark": {"type": "text", "align": "right", "dx": 117.3, "fontSize": 8, "color": "#222"}, "encoding": {"y": {"field": "i", "type": "quantitative", "axis": null}, "text": {"field": "e2"}}}
       ]},
      {"width": 218, "height": 59, "data": {"values": []}, "mark": "point"}
     ]},
     {"width": 476, "height": 3, "data": {"values": []}, "mark": "point"},
     {"width": 476, "height": 18, "data": {"values": [{"t": "The actual process spread is represented by 6 sigma."}]}, "mark": {"type": "text", "align": "left", "dx": -227, "fontSize": 10.4, "fontStyle": "italic", "color": "#333"}, "encoding": {"text": {"field": "t"}}},
     {"width": 476, "height": 8, "data": {"values": []}, "mark": "point"}
    ]},
    {"width": 25, "height": 357, "view": {"fill": "white"}, "data": {"values": []}, "mark": "point"}
   ]}
  ]}
 ]}
]
}
